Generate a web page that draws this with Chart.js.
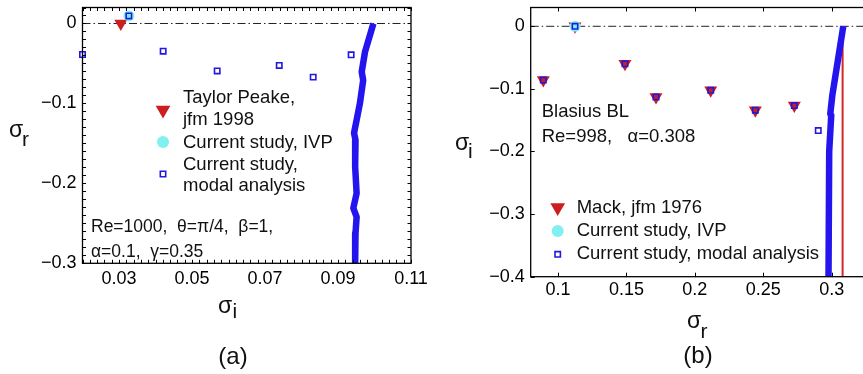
<!DOCTYPE html>
<html><head><meta charset="utf-8">
<script src="https://cdn.jsdelivr.net/npm/chart.js@4/dist/chart.umd.min.js"></script>
<style>
html,body{margin:0;padding:0;width:863px;height:374px;overflow:hidden;background:#fff}
#wa{position:absolute;left:0;top:0;width:430px;height:374px}
#wb{position:absolute;left:430px;top:0;width:460px;height:374px}
canvas{display:block}
</style></head>
<body>
<div id="wa"><canvas id="ca" width="430" height="374"></canvas></div>
<div id="wb"><canvas id="cb" width="460" height="374"></canvas></div>
<script>
// ---------------- Panel (a): sigma_r vs sigma_i ----------------
const aTaylorX = [0.0305];
const aTaylorY = [0.0];
const aIvpX = [0.0327];
const aIvpY = [0.0095];
const aModalX = [0.0200, 0.0327, 0.0421, 0.0569, 0.0739, 0.0832, 0.0936];
const aModalY = [-0.0388, 0.0095, -0.0346, -0.0593, -0.0525, -0.0671, -0.0392];
const aSpecX = [0.0997, 0.0974, 0.0965, 0.0969, 0.0960, 0.0951, 0.0944, 0.0948, 0.0947, 0.0951, 0.0942, 0.0951, 0.0948, 0.0947];
const aSpecY = [0, -0.0355, -0.0605, -0.071, -0.100, -0.121, -0.137, -0.146, -0.179, -0.2125, -0.231, -0.242, -0.2625, -0.300];
const aZeroX = [0.02, 0.11];
const aZeroY = [0, 0];
const aXTicks = [0.03, 0.05, 0.07, 0.09, 0.11];
const aXTickLabels = ['0.03', '0.05', '0.07', '0.09', '0.11'];
const aYTicks = [0, -0.1, -0.2, -0.3];
const aYTickLabels = ['0', '\u22120.1', '\u22120.2', '\u22120.3'];

// ---------------- Panel (b): sigma_i vs sigma_r ----------------
const bMackX = [0.0892, 0.1124, 0.1489, 0.1716, 0.2116, 0.2442, 0.2727];
const bMackY = [-0.0859, 0.0, -0.0600, -0.1129, -0.1023, -0.1340, -0.1267];
const bIvpX = [0.1124];
const bIvpY = [0.0];
const bModalX = [0.0892, 0.1124, 0.1489, 0.1716, 0.2116, 0.2442, 0.2727, 0.2902];
const bModalY = [-0.0859, 0.0, -0.0600, -0.1129, -0.1023, -0.1340, -0.1267, -0.1665];
const bSpecX = [0.3085, 0.3005, 0.2990, 0.2997, 0.2982, 0.2977];
const bSpecY = [0, -0.110, -0.140, -0.142, -0.200, -0.400];
const bRefX = [0.308, 0.308];
const bRefY = [0, -0.4];
const bZeroX = [0.08, 0.33];
const bZeroY = [0, 0];
const bXTicks = [0.1, 0.15, 0.2, 0.25, 0.3];
const bXTickLabels = ['0.1', '0.15', '0.2', '0.25', '0.3'];
const bYTicks = [0, -0.1, -0.2, -0.3, -0.4];
const bYTickLabels = ['0', '\u22120.1', '\u22120.2', '\u22120.3', '\u22120.4'];

// ---------------- styling ----------------
const FONT = '"Liberation Sans", Arial, Helvetica, sans-serif';
const INK = '#000';
const RED = '#cc1e1e';
const CYAN = '#80f0f0';
const BLUE = '#2414ee';
const SQB = '#2018e0';

const pts = (xs, ys) => xs.map((x, i) => ({x: x, y: ys[i]}));

function scaleOpts(o) {
  return {
    x: {
      type: 'linear', min: o.xmin, max: o.xmax,
      border: {display: false}, grid: {display: false, drawTicks: false},
      afterBuildTicks: s => { s.ticks = o.xt.map(v => ({value: v})); },
      ticks: {font: {family: FONT, size: 18}, color: INK, padding: o.xpad, maxRotation: 0, minRotation: 0, autoSkip: false,
        callback: (v, i) => o.xl[i]},
      afterFit: s => { s.height = o.xh; s.paddingLeft = 0; s.paddingRight = 0; }
    },
    y: {
      type: 'linear', min: o.ymin, max: o.ymax,
      border: {display: false}, grid: {display: false, drawTicks: false},
      afterBuildTicks: s => { s.ticks = o.yt.map(v => ({value: v})); },
      ticks: {font: {family: FONT, size: 18}, color: INK, padding: o.ypad, autoSkip: false,
        callback: (v, i) => o.yl[i]},
      afterFit: s => { s.width = o.yw; s.paddingTop = 0; s.paddingBottom = 0; }
    }
  };
}

function framePlugin(o) {
  return {
    id: 'frame',
    afterDatasetsDraw(chart) {
      const ctx = chart.ctx, a = chart.chartArea, sx = chart.scales.x, sy = chart.scales.y;
      ctx.save();
      ctx.strokeStyle = INK; ctx.lineWidth = 1;
      ctx.beginPath();
      o.xMinor.forEach(v => {
        const p = Math.round(sx.getPixelForValue(v)) + 0.5;
        ctx.moveTo(p, a.bottom); ctx.lineTo(p, a.bottom - o.len);
        ctx.moveTo(p, a.top); ctx.lineTo(p, a.top + o.len);
      });
      o.yMinor.forEach(v => {
        const p = Math.round(sy.getPixelForValue(v)) + 0.5;
        ctx.moveTo(a.left, p); ctx.lineTo(a.left + o.len, p);
        ctx.moveTo(a.right, p); ctx.lineTo(a.right - o.len, p);
      });
      ctx.stroke();
      ctx.lineWidth = 1.3;
      ctx.strokeRect(a.left, a.top, a.right - a.left, a.bottom - a.top);
      ctx.restore();
    }
  };
}

function txt(ctx, s, x, y, size, align, base) {
  ctx.font = size + 'px ' + FONT;
  ctx.textAlign = align || 'left';
  ctx.textBaseline = base || 'middle';
  ctx.fillStyle = '#111';
  ctx.fillText(s, x, y);
}

function marker(ctx, kind, x, y) {
  ctx.save();
  if (kind === 'tri') {
    ctx.fillStyle = RED; ctx.strokeStyle = RED;
    Chart.helpers.drawPoint(ctx, {pointStyle: 'triangle', radius: 8.5, rotation: 180, borderWidth: 0}, x, y);
  } else if (kind === 'circ') {
    ctx.fillStyle = CYAN; ctx.strokeStyle = CYAN;
    Chart.helpers.drawPoint(ctx, {pointStyle: 'circle', radius: 6, rotation: 0, borderWidth: 0}, x, y);
  } else {
    ctx.fillStyle = 'rgba(0,0,0,0)'; ctx.strokeStyle = SQB; ctx.lineWidth = 1.6;
    Chart.helpers.drawPoint(ctx, {pointStyle: 'rect', radius: 3.8, rotation: 0, borderWidth: 1.6}, x, y);
  }
  ctx.restore();
}

function textPlugin(draw) {
  return { id: 'texts', afterDraw(chart) { const ctx = chart.ctx; ctx.save(); draw(ctx); ctx.restore(); } };
}

function datasets(d) {
  const list = [
    {label: 'zero', data: pts(d.zx, d.zy), showLine: true, pointRadius: 0, borderColor: '#222', borderWidth: 1,
     borderDash: [8, 3, 1.5, 3], order: 9},
    {label: 'spectrum', data: pts(d.sx, d.sy), showLine: true, pointRadius: 0, borderColor: BLUE, borderWidth: 6.5,
     borderCapStyle: 'butt', borderJoinStyle: 'round', tension: 0, order: 7}
  ];
  if (d.rx) list.push({label: 'ref', data: pts(d.rx, d.ry), showLine: true, pointRadius: 0, borderColor: '#d42626', borderWidth: 2, order: 8});
  list.push({label: d.triLabel, data: pts(d.tx, d.ty), pointStyle: 'triangle', rotation: 180, pointRadius: d.triR,
     backgroundColor: RED, borderColor: RED, borderWidth: 0, order: 5, clip: false});
  list.push({label: 'Current study, IVP', data: pts(d.cx, d.cy), pointStyle: 'circle', pointRadius: 5.5,
     backgroundColor: CYAN, borderColor: CYAN, borderWidth: 0, order: 4, clip: false});
  list.push({label: 'Current study, modal analysis', data: pts(d.mx, d.my), pointStyle: 'rect', pointRadius: 3.8,
     backgroundColor: 'rgba(0,0,0,0)', borderColor: SQB, borderWidth: 1.6, order: 1, clip: false});
  return list;
}

function build(id, d, so, fo, pad, draw) {
  return new Chart(document.getElementById(id), {
    type: 'scatter',
    data: {datasets: datasets(d)},
    options: {
      responsive: false, animation: false, maintainAspectRatio: false,
      layout: {padding: pad},
      plugins: {legend: {display: false}, tooltip: {enabled: false}},
      elements: {point: {hoverRadius: 0}},
      scales: scaleOpts(so)
    },
    plugins: [framePlugin(fo), textPlugin(draw)]
  });
}

// minor tick values
const aXMinor = []; for (let k = 0; k <= 45; k++) aXMinor.push(0.02 + k * 0.002);
const aYMinor = []; for (let k = 0; k <= 32; k++) aYMinor.push(0.02 - k * 0.01);

build('ca',
  {zx: aZeroX, zy: aZeroY, sx: aSpecX, sy: aSpecY, tx: aTaylorX, ty: aTaylorY, triLabel: 'Taylor Peake, jfm 1998', triR: 7.5,
   cx: aIvpX, cy: aIvpY, mx: aModalX, my: aModalY},
  {xmin: 0.02, xmax: 0.11, ymin: -0.3, ymax: 0.02, xt: aXTicks, xl: aXTickLabels, yt: aYTicks, yl: aYTickLabels,
   xh: 110.7, yw: 82.5, xpad: 5, ypad: 6},
  {xMinor: aXMinor, yMinor: aYMinor, len: 3.5},
  {top: 7.3, right: 19, left: 0, bottom: 0},
  ctx => {
    marker(ctx, 'tri', 163, 110);
    txt(ctx, 'Taylor Peake,', 183, 98, 18.5);
    txt(ctx, 'jfm 1998', 183, 120, 18.5);
    marker(ctx, 'circ', 163, 142);
    txt(ctx, 'Current study, IVP', 183, 143, 18.5);
    marker(ctx, 'sq', 163, 174);
    txt(ctx, 'Current study,', 183, 165, 18.5);
    txt(ctx, 'modal analysis', 183, 186, 18.5);
    txt(ctx, 'Re=1000,  \u03b8=\u03c0/4,  \u03b2=1,', 91, 227, 17.5);
    txt(ctx, '\u03b1=0.1,  \u03b3=0.35', 91, 252, 17.5);
    // axis titles
    txt(ctx, '\u03c3', 9, 137, 23, 'left', 'alphabetic');
    txt(ctx, 'r', 22, 146, 21, 'left', 'alphabetic');
    txt(ctx, '\u03c3', 218, 313, 23, 'left', 'alphabetic');
    txt(ctx, 'i', 232.5, 318, 21, 'left', 'alphabetic');
    txt(ctx, '(a)', 233, 357, 24, 'center', 'middle');
  });

build('cb',
  {zx: bZeroX, zy: bZeroY, sx: bSpecX, sy: bSpecY, rx: bRefX, ry: bRefY, tx: bMackX, ty: bMackY, triLabel: 'Mack, jfm 1976', triR: 7.5,
   cx: bIvpX, cy: bIvpY, mx: bModalX, my: bModalY},
  {xmin: 0.08, xmax: 0.33, ymin: -0.4, ymax: 0.03, xt: bXTicks, xl: bXTickLabels, yt: bYTicks, yl: bYTickLabels,
   xh: 97.3, yw: 100.7, xpad: 3, ypad: 6},
  {xMinor: bXTicks, yMinor: bYTicks, len: 4},
  {top: 6.1, right: 17.3, left: 0, bottom: 0},
  ctx => {
    txt(ctx, 'Blasius BL', 111.7, 112, 18.5);
    txt(ctx, 'Re=998,   \u03b1=0.308', 111.7, 137, 18.5);
    marker(ctx, 'tri', 127.7, 207.5);
    txt(ctx, 'Mack, jfm 1976', 146.7, 208, 18.5);
    marker(ctx, 'circ', 127.7, 231);
    txt(ctx, 'Current study, IVP', 146.7, 231, 18.5);
    marker(ctx, 'sq', 127.7, 254.3);
    txt(ctx, 'Current study, modal analysis', 146.7, 254, 18.5);
    // axis titles
    txt(ctx, '\u03c3', 25, 150, 23, 'left', 'alphabetic');
    txt(ctx, 'i', 38, 158, 21, 'left', 'alphabetic');
    txt(ctx, '\u03c3', 257, 328, 23, 'left', 'alphabetic');
    txt(ctx, 'r', 270.5, 338, 21, 'left', 'alphabetic');
    txt(ctx, '(b)', 268, 356, 24, 'center', 'middle');
  });
</script>
</body></html>
